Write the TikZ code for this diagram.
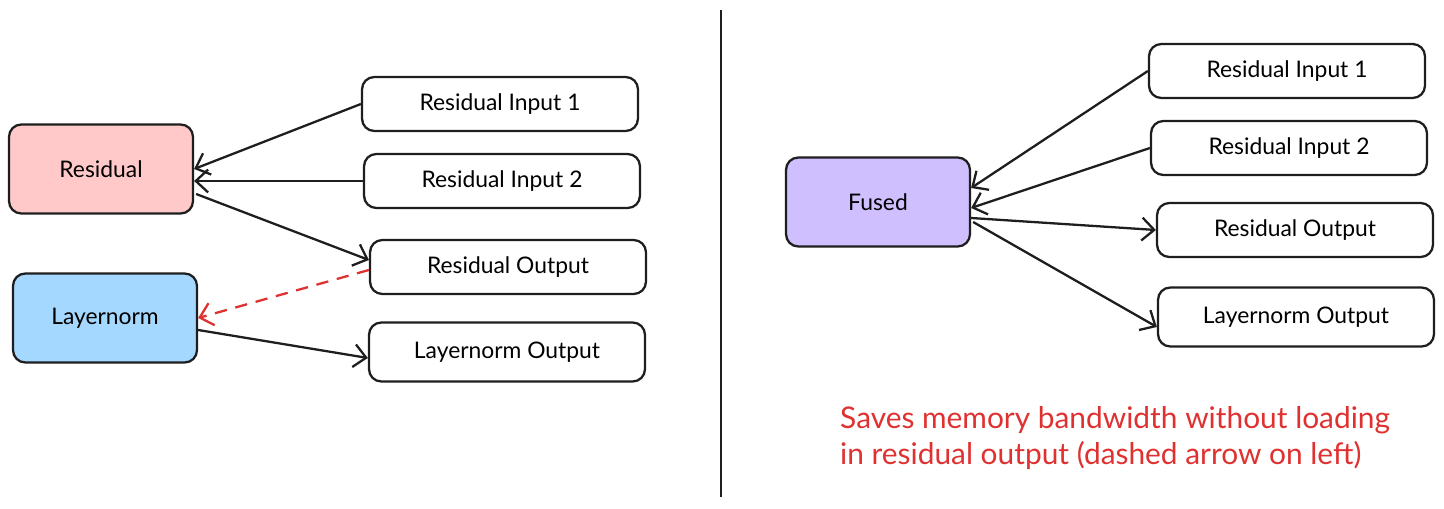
\documentclass[tikz,border=0pt]{standalone}
\usepackage{fontspec}
\setmainfont{Lato}
\usetikzlibrary{calc,arrows.meta}
\definecolor{respink}{HTML}{FFC9C9}
\definecolor{lnblue}{HTML}{A5D8FF}
\definecolor{fusedviolet}{HTML}{D0BFFF}
\definecolor{notered}{HTML}{E03131}
\definecolor{inkgray}{HTML}{1E1E1E}
\tikzset{
  box/.style={draw=inkgray, line width=1.3pt, rounded corners=7pt, minimum width=5.52cm, minimum height=1.08cm, font=\fontsize{13}{15}\selectfont, inner sep=0pt},
  opbox/.style={box, minimum width=3.68cm, minimum height=1.78cm},
  flow/.style={-{Straight Barb[length=7pt,width=13pt]}, line width=1.3pt, draw=inkgray},
  skip/.style={flow, draw=notered, dash pattern=on 7pt off 5pt}
}

\begin{document}
\begin{tikzpicture}[x=0.02cm, y=-0.02cm]
    \useasboundingbox (0,0) rectangle (1444,509);
    % unfused: two kernels
    \node[opbox, fill=respink] (res) at (101,169) {Residual};
    \node[opbox, fill=lnblue] (ln) at (105,318) {Layernorm};
    \node[box] (ri1) at (500,104) {Residual Input 1};
    \node[box] (ri2) at (502,181) {Residual Input 2};
    \node[box] (ro) at (508,267) {Residual Output};
    \node[box, minimum height=1.18cm] (lo) at (507,352) {Layernorm Output};
    \draw[flow] (ri1.west) -- (res.east);
    \draw[flow] (ri2.west) -- ($(res.east)+(0,12)$);
    \draw[flow] ($(res.east)+(2,25)$) -- ($(ro.west)+(0,-7)$);
    \draw[skip] ($(ro.west)+(0,3)$) -- (ln.east);
    \draw[flow] ($(ln.east)+(0,12)$) -- ($(lo.west)+(0,6)$);
    % divider
    \draw[line width=1.3pt, inkgray] (721,10) -- (721,497);
    % fused kernel
    \node[opbox, fill=fusedviolet] (fused) at (878,202) {Fused};
    \node[box] (fri1) at (1287,71) {Residual Input 1};
    \node[box] (fri2) at (1289,148) {Residual Input 2};
    \node[box] (fro) at (1295,230) {Residual Output};
    \node[box, minimum height=1.18cm] (flo) at (1296,317) {Layernorm Output};
    \draw[flow] (fri1.west) -- ($(fused.east)+(0,-14)$);
    \draw[flow] (fri2.west) -- ($(fused.east)+(0,6)$);
    \draw[flow] ($(fused.east)+(0,16)$) -- (fro.west);
    \draw[flow] ($(fused.east)+(2,20)$) -- ($(flo.west)+(0,10)$);
    \node[anchor=west, align=left, text=notered, font=\fontsize{17}{20.5}\selectfont] (note) at (834,438)
      {Saves memory bandwidth without loading\\in residual output (dashed arrow on left)};
\end{tikzpicture}
\end{document}
